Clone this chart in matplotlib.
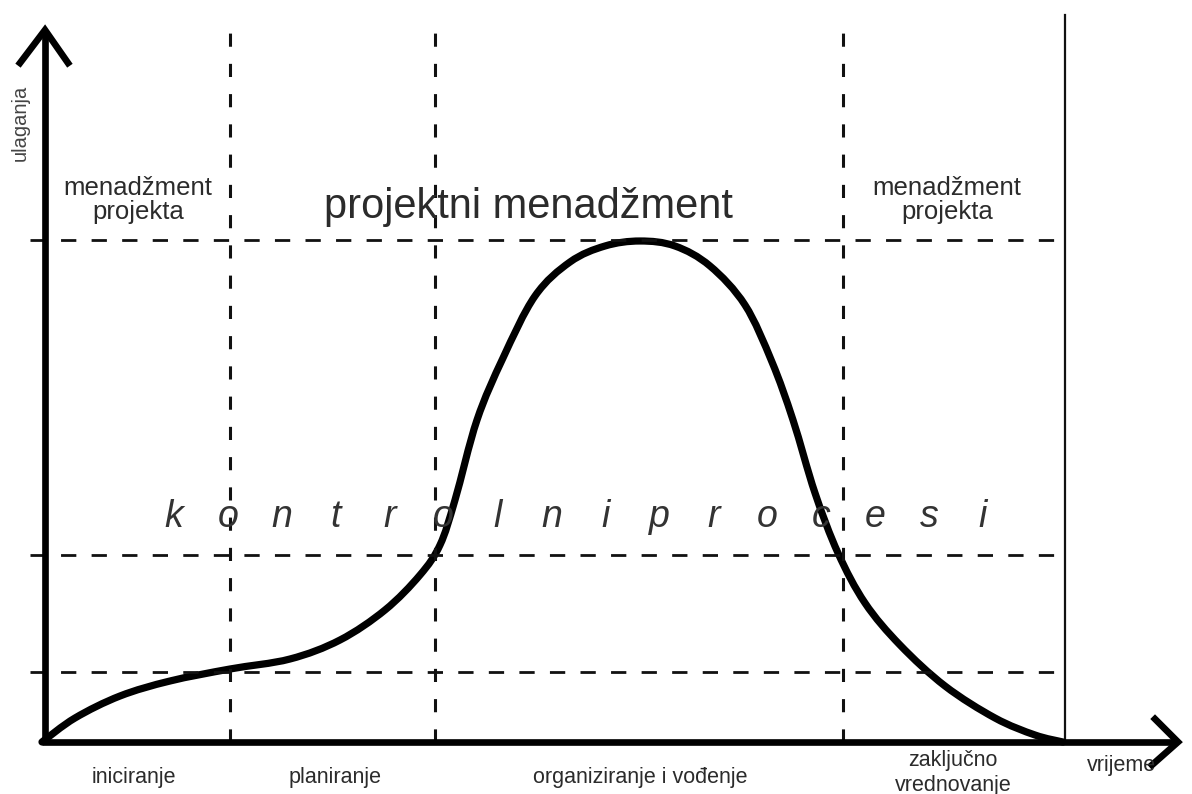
import matplotlib
matplotlib.use("Agg")
import matplotlib.pyplot as plt
from matplotlib.path import Path
from matplotlib.patches import PathPatch

plt.rcParams['font.family'] = ['Liberation Sans', 'DejaVu Sans']

# curve (time, investment), origin at the axes corner
curve_t = [0, 33, 78, 128, 188, 248, 298, 343, 378, 398, 413, 435, 461, 493, 528,
           563, 598, 633, 668, 703, 730, 751, 773, 796, 823, 858, 903, 953, 993, 1021]
curve_y = [0, 24, 46, 61, 73, 83, 102, 132, 167, 197, 242, 322, 384, 446, 480,
           496, 501, 496, 476, 437, 380, 322, 249, 189, 139, 97, 56, 24, 7, 0]

# phase boundaries and reference levels
phase_t = [188, 393, 801]
end_t = 1023
levels = [70, 187, 502]

phase_names = ["iniciranje", "planiranje", "organiziranje i vođenje", "zaključno\nvrednovanje"]
phase_mid = [92, 293, 598, 911]


def smooth_path(xs, ys):
    # Catmull-Rom through the read points, written as cubic Bezier segments
    pts = list(zip(xs, ys))
    verts = [pts[0]]
    codes = [Path.MOVETO]
    for i in range(len(pts) - 1):
        p0 = pts[i - 1] if i > 0 else pts[i]
        p1 = pts[i]
        p2 = pts[i + 1]
        p3 = pts[i + 2] if i + 2 < len(pts) else pts[i + 1]
        c1 = (p1[0] + (p2[0] - p0[0]) / 6, p1[1] + (p2[1] - p0[1]) / 6)
        c2 = (p2[0] - (p3[0] - p1[0]) / 6, p2[1] - (p3[1] - p1[1]) / 6)
        verts += [c1, c2, p2]
        codes += [Path.CURVE4] * 3
    return Path(verts, codes)


fig = plt.figure(figsize=(11.92, 7.94), dpi=100)
ax = fig.add_axes([0, 0, 1, 1])
ax.set_xlim(-42, 1150)
ax.set_ylim(-52, 742)
ax.axis('off')

ink = '#111111'
txt = '#2b2b2b'

# dashed grid
for t in phase_t:
    ax.plot([t, t], [0, 717], color=ink, lw=2.2, dashes=(4.3, 5.6))
for lv in levels:
    ax.plot([-12, end_t], [lv, lv], color=ink, lw=2.0, dashes=(5.5, 5.5))
ax.plot([end_t, end_t], [0, 727], color=ink, lw=1.6)

# axes with open arrow heads
ax.plot([3, 3], [0, 710], color='black', lw=4.8, solid_capstyle='butt')
ax.plot([-22, 3, 26], [679, 712, 679], color='black', lw=4.8, solid_joinstyle='miter')
ax.plot([0, 1134], [0, 0], color='black', lw=4.8, solid_capstyle='butt')
ax.plot([1113, 1136, 1110], [23, 0, -23], color='black', lw=4.8, solid_joinstyle='miter')

ax.add_patch(PathPatch(smooth_path(curve_t, curve_y), facecolor='none', edgecolor='black',
                       lw=5.2, joinstyle='round', capstyle='round'))

# labels
ax.text(-22, 619, "ulaganja", rotation=90, ha='center', va='center', fontsize=14.5, color='#444444')
ax.text(96, 542, "menadžment\nprojekta", ha='center', va='center', fontsize=18.5,
        color=txt, linespacing=1.0)
ax.text(905, 542, "menadžment\nprojekta", ha='center', va='center', fontsize=18.5,
        color=txt, linespacing=1.0)
ax.text(486, 524, "projektni menadžment", ha='center', va='baseline', fontsize=30, color=txt)

letters = "kontrolniprocesi"
step = (983 - 174) / (len(letters) - 1)
for i, ch in enumerate(letters):
    ax.text(174 - 42 + i * step, 215, ch, ha='center', va='baseline', fontsize=27,
            style='italic', color='#333333')

for name, mid in zip(phase_names, phase_mid):
    ax.text(mid, -36 if '\n' not in name else -31, name, ha='center', va='center',
            fontsize=15.5, color=txt, linespacing=1.2)
ax.text(1079, -23, "vrijeme", ha='center', va='center', fontsize=15.5, color=txt)

fig.savefig("out.png", dpi=100, facecolor='white')
